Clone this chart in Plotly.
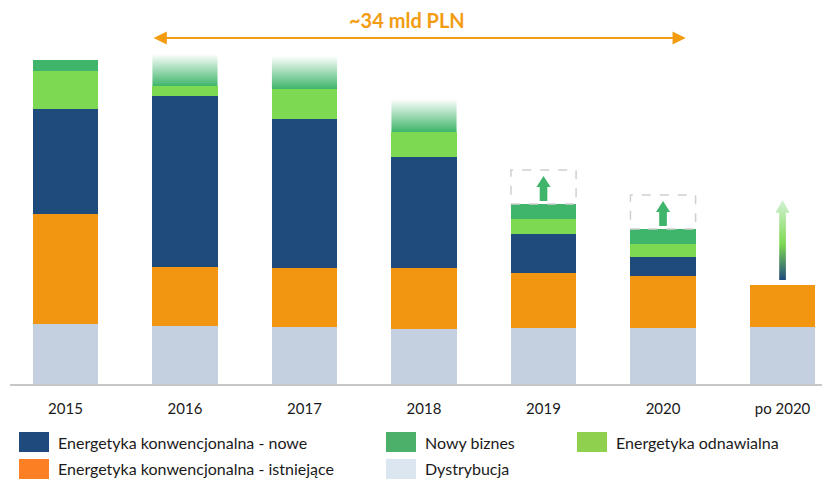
import plotly.graph_objects as go
import numpy as np

# ---------------- data ----------------
years = ['2015', '2016', '2017', '2018', '2019', '2020', 'po 2020']
dystrybucja = [6.0, 5.8, 5.7, 5.5, 5.6, 5.6, 5.7]
istniejace = [11.0, 5.9, 5.9, 6.1, 5.5, 5.2, 4.2]
nowe = [10.5, 17.1, 14.9, 11.1, 3.9, 1.9, 0.0]
odnawialna = [3.8, 1.0, 3.0, 2.5, 1.5, 1.3, 0.0]
nowy_biznes = [1.1, 0.0, 0.0, 0.0, 1.5, 1.5, 0.0]
nowy_biznes_gradient = [0.0, 3.2, 3.3, 3.3, 0.0, 0.0, 0.0]
potencjal_wzrostu = [0.0, 0.0, 0.0, 0.0, 3.4, 3.4, 0.0]
wzrost_po_2020 = [0.0, 0.0, 0.0, 0.0, 0.0, 0.0, 8.0]
total_label = '~34 mld PLN'

legend_names = ['Energetyka konwencjonalna - nowe', 'Nowy biznes', 'Energetyka odnawialna',
                'Energetyka konwencjonalna - istniejące', 'Dystrybucja']
legend_colors = ['#1F4A7D', '#4CAF6A', '#8FD14F', '#FD7F23', '#DCE6F1']

# ---------------- styles ----------------
C_GRAY = '#C4CFE0'
C_ORANGE = '#F29611'
C_NAVY = '#1F4A7C'
C_LGREEN = '#7ED952'
C_GREEN = '#3EB56A'
FONT = 'Lato'
W = 0.545

x = np.arange(len(years))
fig = go.Figure()
for vals, col, nm in [(dystrybucja, C_GRAY, 'Dystrybucja'),
                      (istniejace, C_ORANGE, 'Energetyka konwencjonalna - istniejące'),
                      (nowe, C_NAVY, 'Energetyka konwencjonalna - nowe'),
                      (odnawialna, C_LGREEN, 'Energetyka odnawialna'),
                      (nowy_biznes, C_GREEN, 'Nowy biznes')]:
    fig.add_trace(go.Bar(x=x, y=vals, width=W, name=nm, marker=dict(color=col, line=dict(width=0)),
                         showlegend=False))

stack_top = (np.array(dystrybucja) + np.array(istniejace) + np.array(nowe)
             + np.array(odnawialna) + np.array(nowy_biznes))

# gradient tops
for i, h in enumerate(nowy_biznes_gradient):
    if h <= 0:
        continue
    b = stack_top[i]
    fig.add_trace(go.Scatter(
        x=[i - W / 2, i + W / 2, i + W / 2, i - W / 2, i - W / 2],
        y=[b, b, b + h, b + h, b], mode='lines', fill='toself',
        line=dict(width=0, color='rgba(0,0,0,0)'),
        fillgradient=dict(type='vertical',
                          colorscale=[[0, 'rgba(62,181,106,1)'], [1, 'rgba(62,181,106,0)']]),
        hoverinfo='skip', showlegend=False))


def arrow_xy(xc, y0, y1, sw, hw, hh):
    xs = [xc - sw / 2, xc + sw / 2, xc + sw / 2, xc + hw / 2, xc, xc - hw / 2, xc - sw / 2, xc - sw / 2]
    ys = [y0, y0, y1 - hh, y1 - hh, y1, y1 - hh, y1 - hh, y0]
    return xs, ys


shapes = []
# dashed boxes with green arrows
for i, h in enumerate(potencjal_wzrostu):
    if h <= 0:
        continue
    b = stack_top[i]
    shapes.append(dict(type='rect', xref='x', yref='y', x0=i - W / 2, x1=i + W / 2, y0=b, y1=b + h,
                       line=dict(color='#CFCFCF', width=1.5, dash='dash'), fillcolor='rgba(0,0,0,0)'))
    xs, ys = arrow_xy(i, b + 0.3, b + h - 0.6, 0.064, 0.118, 1.1)
    path = 'M ' + ' L '.join(f'{a},{c}' for a, c in zip(xs, ys)) + ' Z'
    shapes.append(dict(type='path', xref='x', yref='y', path=path, fillcolor=C_GREEN,
                       line=dict(width=0)))

# po 2020 gradient arrow
for i, h in enumerate(wzrost_po_2020):
    if h <= 0:
        continue
    b = stack_top[i] + 0.5
    xs, ys = arrow_xy(i, b, b + h, 0.056, 0.118, 1.27)
    fig.add_trace(go.Scatter(
        x=xs, y=ys, mode='lines', fill='toself', line=dict(width=0, color='rgba(0,0,0,0)'),
        fillgradient=dict(type='vertical',
                          colorscale=[[0, '#1F4A7C'], [0.45, '#7ED952'], [1, '#D4F2D6']]),
        hoverinfo='skip', showlegend=False))

annotations = []
# top span arrow
ya = 34.6
annotations.append(dict(x=5.19, y=ya, ax=0.725, ay=ya, xref='x', yref='y', axref='x', ayref='y',
                        text='', showarrow=True, arrowside='end+start', arrowhead=2, startarrowhead=2,
                        arrowsize=1.2, startarrowsize=1.2, arrowwidth=2.2, arrowcolor='#F39C12'))
annotations.append(dict(x=2.86, y=36.4, xref='x', yref='y', text=f'<b>{total_label}</b>',
                        showarrow=False, font=dict(family=FONT, size=20, color='#F39C12')))

# manual legend (screen pixel -> paper coords; plot area is screen x 10..830, y 8..384)
def pxx(p):
    return (p - 10) / 820


def pxy(p):
    return (384 - p) / 376


leg_x = [19, 386, 577, 19, 386]
leg_y = [442, 442, 442, 469, 469]
for nm, col, lx, ly in zip(legend_names, legend_colors, leg_x, leg_y):
    shapes.append(dict(type='rect', xref='paper', yref='paper', x0=pxx(lx), x1=pxx(lx + 30),
                       y0=pxy(ly + 10), y1=pxy(ly - 10), fillcolor=col, line=dict(width=0)))
    annotations.append(dict(x=pxx(lx + 37), y=pxy(ly), xref='paper', yref='paper', text=nm,
                            showarrow=False, xanchor='left', yanchor='middle',
                            font=dict(family=FONT, size=16, color='#1A1A1A')))

fig.update_layout(
    width=822, height=472, margin=dict(l=2, r=0, t=0, b=96),
    barmode='stack', plot_bgcolor='white', paper_bgcolor='white',
    shapes=shapes, annotations=annotations, showlegend=False,
    xaxis=dict(range=[-0.464, 6.397], tickvals=list(x), ticktext=years, showgrid=False, zeroline=False,
               showline=True, linecolor='#C8C8C8', linewidth=1.5, ticks='', ticklabelstandoff=10,
               tickfont=dict(family=FONT, size=15, color='#1A1A1A'), fixedrange=True),
    yaxis=dict(range=[0, 37.6], visible=False, showgrid=False, zeroline=False),
)

fig.write_html('out.html')
